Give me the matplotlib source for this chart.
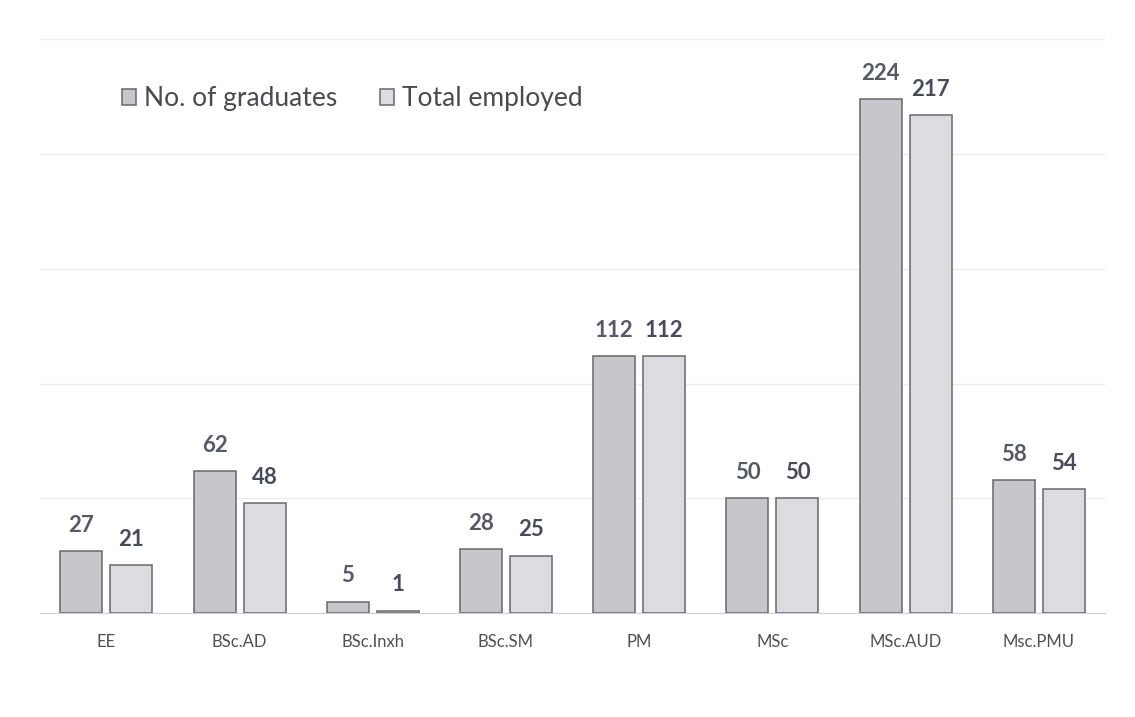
import numpy as np
import matplotlib.pyplot as plt

categories = ['EE', 'BSc.AD', 'BSc.Inxh', 'BSc.SM', 'PM', 'MSc', 'MSc.AUD', 'Msc.PMU']
graduates = [27, 62, 5, 28, 112, 50, 224, 58]
employed = [21, 48, 1, 25, 112, 50, 217, 54]

plt.rcParams['font.family'] = ['Lato', 'DejaVu Sans']

fig = plt.figure(figsize=(11.35, 7.17), dpi=100)
ax = fig.add_axes([0.035, 0.145, 0.939, 0.80])

x = np.arange(len(categories))
w = 0.315
gap = 0.03
b1 = ax.bar(x - w / 2 - gap, graduates, w, color='#c6c6cb', edgecolor='#67676d',
            linewidth=1.1, label='No. of graduates', zorder=3)
b2 = ax.bar(x + w / 2 + gap, employed, w, color='#dcdce1', edgecolor='#67676d',
            linewidth=1.1, label='Total employed', zorder=3)

for bars, vals, col in ((b1, graduates, '#555a66'), (b2, employed, '#474c58')):
    for rect, v in zip(bars, vals):
        ax.annotate(str(v), (rect.get_x() + rect.get_width() / 2, rect.get_height()),
                    xytext=(0, 11), textcoords='offset points', ha='center', va='bottom',
                    fontsize=16, fontweight='bold', color=col)

ax.set_xlim(-0.5, len(categories) - 0.5)
ax.set_ylim(0, 250)
ax.set_yticks([50, 100, 150, 200, 250])
ax.yaxis.grid(True, color='#ececec', linewidth=1.0, zorder=0)
ax.tick_params(axis='y', left=False, labelleft=False)
ax.set_xticks(x)
ax.set_xticklabels(categories, fontsize=12, color='#505050')
ax.tick_params(axis='x', length=0, pad=15)
for s in ['top', 'right', 'left']:
    ax.spines[s].set_visible(False)
ax.spines['bottom'].set_color('#d0d0d0')

ax.legend(loc='upper left', bbox_to_anchor=(0.077, 0.918), ncol=2, frameon=False,
          fontsize=19, labelcolor='#4a4a4f', handlelength=0.55, handleheight=0.55,
          columnspacing=1.6, handletextpad=0.3, borderpad=0, borderaxespad=0)

fig.savefig('out.png', dpi=100)
